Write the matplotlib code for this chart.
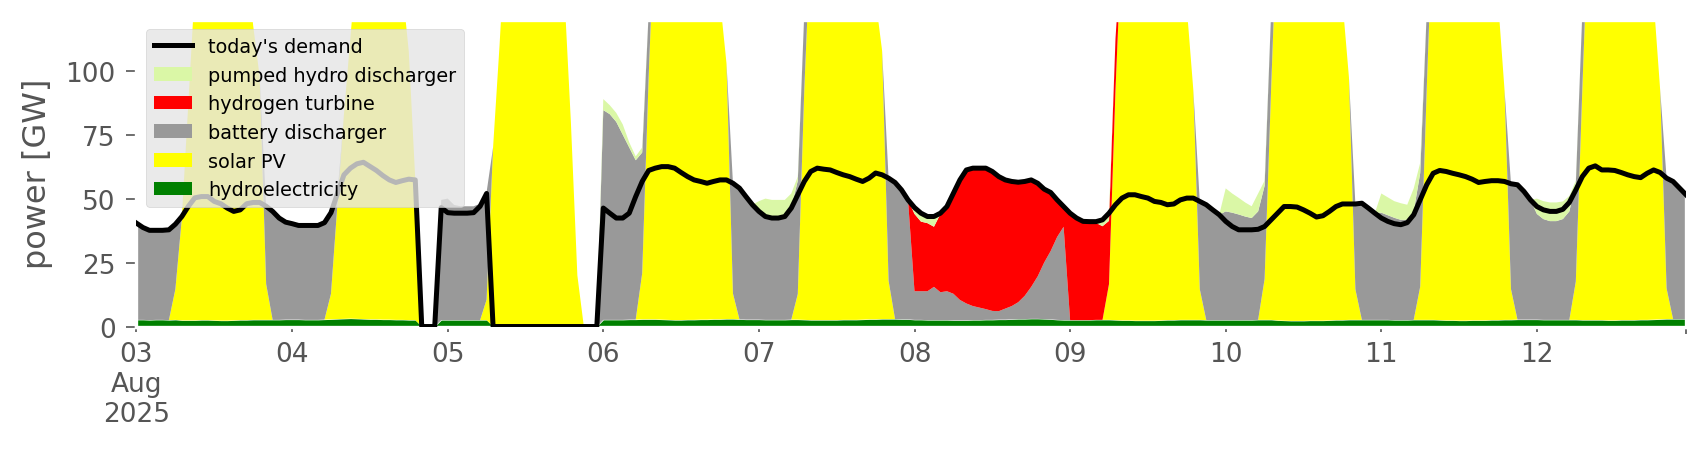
import numpy as np
import pandas as pd
import matplotlib
matplotlib.use("Agg")
import matplotlib.pyplot as plt
from matplotlib.patches import Patch
from matplotlib.lines import Line2D

plt.style.use("ggplot")

# hourly values, 03 Aug 2025 00:00 .. 12 Aug 2025 23:00, in GW (one row per day)
demand = [
    40.4, 38.7, 37.6, 37.6, 37.6, 37.8, 40.0, 43.0, 47.0, 50.3, 50.8, 50.8, 48.9, 48.0, 46.3, 45.0, 45.6, 48.0, 48.5, 48.5, 47.0, 45.0, 42.4, 40.8,
    40.2, 39.5, 39.5, 39.5, 39.5, 40.6, 44.5, 52.0, 59.3, 61.9, 63.6, 64.2, 62.6, 61.0, 59.0, 57.3, 56.3, 57.0, 57.6, 57.3, 0, 0, 0, 46.5,
    44.5, 44.3, 44.3, 44.3, 44.5, 47.0, 52.0, 0, 0, 0, 0, 0, 0, 0, 0, 0, 0, 0, 0, 0, 0, 0, 0, 0,
    46.3, 44.3, 42.4, 42.4, 44.3, 50.8, 56.7, 61.0, 61.9, 62.5, 62.5, 61.9, 60.2, 58.6, 57.3, 56.7, 56.0, 56.7, 57.3, 57.3, 56.0, 54.1, 50.8, 47.6,
    45.0, 43.0, 42.4, 42.4, 43.0, 46.3, 51.5, 56.7, 60.6, 61.9, 61.5, 61.2, 60.2, 59.3, 58.6, 57.6, 56.7, 58.0, 60.0, 59.3, 58.0, 56.3, 53.4, 49.5,
    46.5, 44.3, 43.0, 43.0, 44.3, 46.9, 52.1, 57.3, 61.2, 61.9, 61.9, 61.9, 60.6, 58.6, 57.3, 56.7, 56.4, 56.7, 57.3, 56.0, 53.7, 52.4, 49.5, 46.9,
    44.3, 42.4, 41.1, 41.0, 41.0, 41.7, 44.3, 47.6, 50.2, 51.5, 51.5, 50.8, 50.2, 48.9, 48.5, 47.6, 47.9, 49.5, 50.2, 50.2, 48.9, 47.6, 45.6, 43.7,
    41.1, 39.1, 37.8, 37.8, 37.8, 38.0, 39.1, 41.7, 44.3, 46.9, 46.9, 46.7, 45.6, 44.3, 42.8, 43.3, 45.0, 46.9, 47.9, 47.9, 47.9, 48.2, 46.3, 44.3,
    42.4, 41.1, 40.2, 39.8, 40.6, 43.7, 49.5, 55.4, 59.9, 61.0, 60.6, 59.9, 59.3, 58.6, 57.6, 56.3, 56.7, 57.0, 57.0, 56.7, 55.8, 55.4, 52.8, 49.5,
    46.9, 45.6, 45.0, 45.0, 45.8, 48.5, 53.4, 58.6, 61.9, 62.8, 61.2, 61.2, 61.0, 60.2, 59.3, 58.6, 58.2, 59.9, 61.2, 60.2, 58.0, 56.7, 54.1, 51.5,
]

hydro = [
    2.6, 2.6, 2.5, 2.6, 2.6, 2.5, 2.6, 2.4, 2.4, 2.4, 2.5, 2.5, 2.4, 2.3, 2.3, 2.4, 2.5, 2.5, 2.6, 2.6, 2.6, 2.6, 2.6, 2.7,
    2.7, 2.7, 2.6, 2.6, 2.6, 2.7, 2.8, 2.9, 3.0, 3.1, 3.0, 2.9, 2.8, 2.8, 2.7, 2.7, 2.6, 2.6, 2.5, 2.5, 0, 0, 0, 2.5,
    2.5, 2.5, 2.5, 2.5, 2.5, 2.5, 2.5, 0, 0, 0, 0, 0, 0, 0, 0, 0, 0, 0, 0, 0, 0, 0, 0, 0,
    2.6, 2.6, 2.6, 2.6, 2.7, 2.7, 2.8, 2.8, 2.8, 2.7, 2.6, 2.5, 2.5, 2.6, 2.6, 2.7, 2.7, 2.8, 2.8, 2.9, 2.9, 2.8, 2.7, 2.7,
    2.7, 2.6, 2.6, 2.6, 2.6, 2.7, 2.7, 2.6, 2.5, 2.5, 2.5, 2.5, 2.5, 2.6, 2.6, 2.6, 2.7, 2.8, 2.8, 2.9, 2.9, 2.9, 2.8, 2.8,
    2.6, 2.6, 2.5, 2.5, 2.5, 2.5, 2.4, 2.4, 2.4, 2.5, 2.5, 2.6, 2.6, 2.7, 2.7, 2.8, 2.9, 2.9, 3.0, 3.0, 2.9, 2.8, 2.6, 2.5,
    2.5, 2.5, 2.5, 2.5, 2.6, 2.6, 2.6, 2.5, 2.4, 2.4, 2.3, 2.3, 2.3, 2.3, 2.4, 2.5, 2.5, 2.6, 2.6, 2.6, 2.6, 2.5, 2.5, 2.5,
    2.5, 2.5, 2.5, 2.5, 2.5, 2.6, 2.6, 2.6, 2.4, 2.3, 2.2, 2.2, 2.2, 2.3, 2.3, 2.3, 2.4, 2.5, 2.5, 2.6, 2.6, 2.6, 2.6, 2.6,
    2.6, 2.6, 2.5, 2.5, 2.5, 2.6, 2.6, 2.6, 2.6, 2.5, 2.4, 2.4, 2.3, 2.3, 2.4, 2.4, 2.4, 2.5, 2.5, 2.6, 2.6, 2.7, 2.7, 2.7,
    2.7, 2.6, 2.6, 2.6, 2.6, 2.6, 2.6, 2.5, 2.5, 2.5, 2.5, 2.4, 2.4, 2.5, 2.5, 2.5, 2.6, 2.6, 2.7, 2.8, 2.9, 2.9, 2.9, 2.9,
]

solar = [
    0, 0, 0, 0, 0, 0, 12, 40, 85, 130, 165, 185, 195, 195, 185, 170, 155, 140, 115, 95, 14, 0, 0, 0,
    0, 0, 0, 0, 0, 0, 10, 45, 80, 110, 140, 165, 180, 185, 180, 165, 150, 130, 105, 55, 0, 0, 0, 0,
    0, 0, 0, 0, 0, 0, 8, 70, 110, 155, 180, 190, 195, 195, 190, 180, 165, 150, 130, 80, 20, 0, 0, 0,
    0, 0, 0, 0, 0, 0, 18, 95, 160, 185, 195, 200, 200, 195, 185, 175, 160, 145, 125, 100, 10, 0, 0, 0,
    0, 0, 0, 0, 0, 0, 10, 90, 150, 185, 195, 200, 200, 195, 185, 175, 160, 145, 125, 105, 15, 0, 0, 0,
    0, 0, 0, 0, 0, 0, 0, 0, 0, 0, 0, 0, 0, 0, 0, 0, 0, 0, 0, 0, 0, 0, 0, 0,
    0, 0, 0, 0, 0, 0, 14, 90, 150, 180, 195, 200, 200, 195, 185, 175, 160, 140, 122, 90, 12, 0, 0, 0,
    0, 0, 0, 0, 0, 0, 16, 90, 160, 185, 195, 200, 200, 195, 185, 175, 160, 140, 125, 95, 12, 0, 0, 0,
    0, 0, 0, 0, 0, 0, 13, 90, 160, 185, 195, 200, 200, 195, 185, 175, 160, 140, 125, 90, 12, 0, 0, 0,
    0, 0, 0, 0, 0, 0, 15, 90, 160, 185, 195, 200, 200, 195, 185, 175, 160, 140, 125, 90, 12, 0, 0, 0,
]

battery = [
    37.8, 36.1, 35.1, 35.0, 35.0, 35.3, 25.4, 0.6, 0, 0, 0, 0, 0, 0, 0, 0, 0, 0, 0, 0, 30.4, 42.4, 39.8, 38.1,
    37.5, 36.8, 36.9, 36.9, 36.9, 37.9, 31.7, 4.1, 0, 0, 0, 0, 0, 0, 0, 0, 0, 0, 0, 0, 0, 0, 0, 47.0,
    47.5, 45.0, 44.5, 44.5, 44.5, 45.5, 42.0, 0, 0, 0, 0, 0, 0, 0, 0, 0, 0, 0, 0, 0, 0, 0, 0, 0,
    82.0, 80.4, 77.4, 72.4, 67.3, 62.3, 47.2, 25.0, 0, 0, 0, 0, 0, 0, 0, 0, 0, 0, 0, 0, 43.1, 51.3, 48.1, 44.9,
    42.8, 40.9, 40.4, 40.4, 40.9, 43.8, 44.3, 30.0, 0, 0, 0, 0, 0, 0, 0, 0, 0, 0, 0, 0, 40.1, 53.4, 50.6, 46.7,
    11.2, 11.2, 11.3, 13.0, 10.9, 11.3, 10.4, 8.0, 6.6, 5.5, 4.9, 4.2, 3.5, 3.3, 4.3, 5.2, 6.6, 9.1, 12.5, 16.6, 22.1, 26.7, 32.4, 36.5,
    0, 0, 0, 0, 0, 0, 0, 0, 0, 0, 0, 0, 0, 0, 0, 0, 0, 0, 0, 0, 34.3, 45.1, 43.1, 41.2,
    42.5, 42.0, 41.3, 40.5, 39.9, 42.4, 36.4, 30.0, 0, 0, 0, 0, 0, 0, 0, 0, 0, 0, 0, 0, 33.3, 45.6, 43.7, 41.7,
    41.9, 40.9, 40.0, 39.2, 39.2, 42.4, 44.4, 30.0, 0, 0, 0, 0, 0, 0, 0, 0, 0, 0, 0, 0, 41.2, 52.7, 50.1, 46.8,
    41.3, 39.4, 38.6, 38.6, 39.4, 42.4, 38.4, 30.0, 0, 0, 0, 0, 0, 0, 0, 0, 0, 0, 0, 0, 43.1, 53.8, 51.2, 48.6,
]

hydrogen = [0] * 120 + [
    30.2, 27.2, 26.6, 23.5, 30.6, 33.1, 39.3, 46.9, 52.2, 53.9, 54.5, 55.1, 54.5, 52.6, 50.3, 48.7, 46.9, 44.7, 41.8, 35.6, 27.9, 22.1, 14.5, 7.9,
    41.8, 39.9, 38.6, 38.5, 37.9, 36.6, 24.7, 20.0, 0, 0, 0, 0, 0, 0, 0, 0, 0, 0, 0, 0, 0, 0, 0, 0,
] + [0] * 72

pumped = [0] * 72 + [
    4.3, 3.5, 3.5, 4.0, 2.0, 1.5, 2.0, 0, 0, 0, 0, 0, 0, 0, 0, 0, 0, 0, 0, 0, 0, 0, 0, 0,
    3.5, 6.5, 6.5, 6.5, 6.0, 5.5, 1.6, 0, 0, 0, 0, 0, 0, 0, 0, 0, 0, 0, 0, 0, 0, 0, 0, 0,
    2.5, 3.3, 2.6, 4.0, 0.3, 0, 0, 0, 0, 0, 0, 0, 0, 0, 0, 0, 0, 0, 0, 0.8, 0.8, 0.8, 0, 0,
    0, 0, 0, 0, 0.5, 2.5, 3.0, 0, 0, 0, 0, 0, 0, 0, 0, 0, 0, 0, 0, 0, 0, 0, 0, 0,
    9.0, 7.5, 6.5, 5.5, 4.6, 7.0, 2.0, 0, 0, 0, 0, 0, 0, 0, 0, 0, 0, 0, 0, 0, 0, 0, 0, 0,
    7.5, 7.0, 6.5, 6.5, 5.9, 9.0, 4.0, 0, 0, 0, 0, 0, 0, 0, 0, 0, 0, 0, 0, 0, 0, 0, 0, 0,
    6.0, 7.0, 7.3, 7.3, 6.9, 6.0, 1.0, 0, 0, 0, 0, 0, 0, 0, 0, 0, 0, 0, 0, 0, 0, 0, 0, 0,
]

times = pd.date_range("2025-08-03 00:00", periods=len(demand), freq="h")
days = pd.date_range("2025-08-03", periods=10, freq="D")
day_labels = ["03\nAug\n2025", "04", "05", "06", "07", "08", "09", "10", "11", "12"]

# stacking order bottom -> top
layers = [
    ("hydroelectricity", hydro, "green"),
    ("solar PV", solar, "yellow"),
    ("battery discharger", battery, "#999999"),
    ("hydrogen turbine", hydrogen, "red"),
    ("pumped hydro discharger", pumped, "#daf7a6"),
]

fig = plt.figure(figsize=(17.06, 4.6), dpi=100)
ax = fig.add_axes([0.0800, 0.2880, 0.9083, 0.6674])
ax.set_facecolor("white")
ax.grid(False)
for sp in ax.spines.values():
    sp.set_color("white")
    sp.set_linewidth(2.4)

t = times.to_numpy()
base = np.zeros(len(t))
for name, vals, col in layers:
    top = base + np.asarray(vals, dtype=float)
    ax.fill_between(t, base, top, color=col, lw=0, zorder=1)
    base = top

ax.plot(t, demand, color="black", lw=3.6, zorder=3)

ax.set_xlim(times[0], times[-1])
ax.set_ylim(0, 120)
ax.set_yticks([0, 25, 50, 75, 100])
ax.set_xticks(days)
ax.set_xticklabels(day_labels)
ax.set_xticks([times[0], times[-1]], minor=True)

ax.tick_params(axis="x", which="major", length=3.6, width=1.2, pad=6.5,
               labelsize=19, colors="#555555")
ax.tick_params(axis="x", which="minor", length=5, width=1.2, colors="#555555")
ax.tick_params(axis="y", length=7, width=1.2, pad=8, labelsize=19, colors="#555555")
ax.set_ylabel("power [GW]", fontsize=23, color="#555555", labelpad=9)

handles = [Line2D([], [], color="black", lw=3.6, label="today's demand")]
for name, vals, col in reversed(layers):
    handles.append(Patch(facecolor=col, edgecolor="none", label=name))
leg = ax.legend(handles=handles, loc="upper left", fontsize=13.9,
                facecolor="#E5E5E5", edgecolor="#CCCCCC", framealpha=0.8)
leg.set_zorder(5)

fig.savefig("out.png", dpi=100)
